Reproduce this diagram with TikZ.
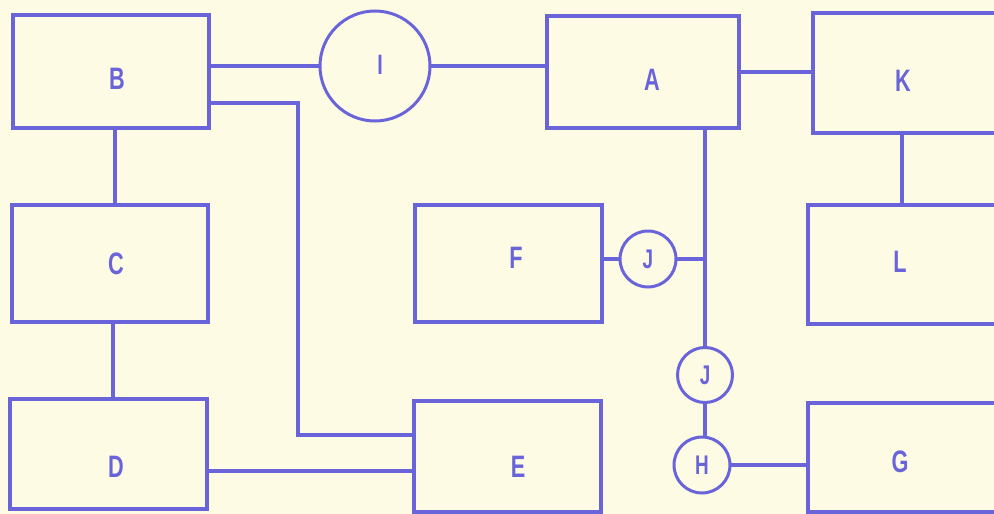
\documentclass[tikz,border=0pt]{standalone}
\usepackage{fontspec}
\setmainfont{Liberation Sans}
\definecolor{ink}{HTML}{6A64DA}
\definecolor{paper}{HTML}{FDFBE4}
\newcommand\mylt[1]{\scalebox{0.7}[1]{#1}}
\begin{document}
\begin{tikzpicture}[x=1pt,y=-1pt,
  box/.style={draw=ink,line width=4pt,rectangle,inner sep=0pt,outer sep=0pt},
  rnd/.style={draw=ink,line width=3pt,circle,inner sep=0pt,outer sep=0pt,text=ink,font=\bfseries\fontsize{27}{27}\selectfont},
  lbl/.style={text=ink,font=\bfseries\fontsize{31}{31}\selectfont,inner sep=0pt},
  wire/.style={draw=ink,line width=3.4pt}]
\useasboundingbox (0,0) rectangle (994,514);
\fill[paper] (0,0) rectangle (994,514);
\clip (0,0) rectangle (994,514);
% boxes
\node[box,minimum width=196,minimum height=113,label={[lbl,shift={(6,7.5)}]center:\mylt{B}}] (B) at (111,71.5) {};
\node[box,minimum width=196,minimum height=117,label={[lbl,shift={(6,0)}]center:\mylt{C}}] (C) at (110,263.5) {};
\node[box,minimum width=197,minimum height=110,label={[lbl,shift={(7.5,13)}]center:\mylt{D}}] (D) at (108.5,454) {};
\node[box,minimum width=187,minimum height=111,label={[lbl,shift={(10.5,10.5)}]center:\mylt{E}}] (E) at (507.5,456.5) {};
\node[box,minimum width=187,minimum height=117,label={[lbl,shift={(7.5,-5.5)}]center:\mylt{F}}] (F) at (508.5,263.5) {};
\node[box,minimum width=192,minimum height=112,label={[lbl,shift={(9,8)}]center:\mylt{A}}] (A) at (643,72) {};
\node[box,minimum width=190,minimum height=120,label={[lbl,shift={(-5,8)}]center:\mylt{K}}] (K) at (908,73) {};
\node[box,minimum width=192,minimum height=119,label={[lbl,shift={(-4,-2.5)}]center:\mylt{L}}] (L) at (904,264.5) {};
\node[box,minimum width=192,minimum height=109,label={[lbl,shift={(-4,4.5)}]center:\mylt{G}}] (G) at (904,457.5) {};
% circles
\node[rnd,minimum size=110,label={[text=ink,font=\bfseries\fontsize{28}{28}\selectfont,inner sep=0pt,shift={(5,-1)}]center:\mylt{I}}] (I) at (375,66) {};
\node[rnd,minimum size=56] (J1) at (648,259) {\mylt{J}};
\node[rnd,minimum size=55] (J2) at (705,375) {\mylt{J}};
\node[rnd,minimum size=56] (H) at (702,465) {\mylt{H}};
% helper coordinates
\coordinate (p1) at (298,103);
\coordinate (p2) at (298,435);
\coordinate (bc) at (115,0);
\coordinate (cd) at (113,0);
\coordinate (de) at (0,471);
\coordinate (jt) at (705,259);
\coordinate (kl) at (902,0);
% connectors
\draw[wire] (B.east |- I.center) -- (I.west);
\draw[wire] (I.east) -- (I.east -| A.west);
\draw[wire] (A.east) -- (A.east -| K.west);
\draw[wire] (B.east |- p1) -- (p1) -- (p2) -- (p2 -| E.west);
\draw[wire] (B.south -| bc) -- (C.north -| bc);
\draw[wire] (C.south -| cd) -- (D.north -| cd);
\draw[wire] (D.east |- de) -- (E.west |- de);
\draw[wire] (A.south -| jt) -- (J2.north);
\draw[wire] (J1.east) -- (jt);
\draw[wire] (F.east |- J1.west) -- (J1.west);
\draw[wire] (J2.south) -- (J2.south |- H.north);
\draw[wire] (H.east) -- (H.east -| G.west);
\draw[wire] (K.south -| kl) -- (L.north -| kl);
\end{tikzpicture}
\end{document}
